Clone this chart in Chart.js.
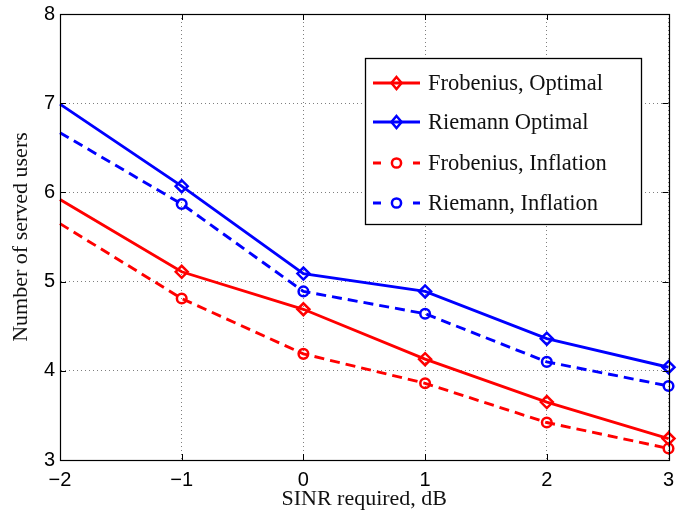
<!DOCTYPE html>
<html>
<head>
<meta charset="utf-8">
<script src="https://cdn.jsdelivr.net/npm/chart.js@4.4.1/dist/chart.umd.min.js"></script>
<style>
  html, body { margin: 0; padding: 0; background: #fff; }
  #wrap { width: 677px; height: 518px; position: relative; }
</style>
</head>
<body>
<div id="wrap"><canvas id="c" width="677" height="518"></canvas></div>
<script>
// ---- data ----
const sinrValues = [-2, -1, 0, 1, 2, 3];
const xTickLabels = ['\u22122', '\u22121', '0', '1', '2', '3'];
const yTickLabels = ['3', '4', '5', '6', '7', '8'];
const seriesNames = ['Frobenius, Optimal', 'Riemann Optimal', 'Frobenius, Inflation', 'Riemann, Inflation'];
const frobeniusOptimal  = [5.92, 5.11, 4.69, 4.13, 3.65, 3.24];
const riemannOptimal    = [6.99, 6.07, 5.09, 4.89, 4.36, 4.04];
const frobeniusInflation = [5.65, 4.81, 4.19, 3.86, 3.42, 3.13];
const riemannInflation  = [6.67, 5.87, 4.89, 4.64, 4.10, 3.83];
const xLabel = 'SINR required, dB';
const yLabel = 'Number of served users';

const RED = '#ff0000', BLUE = '#0000ff';
const DASH = [10, 6];
const serif = '"Liberation Serif", "Times New Roman", serif';
const sans = '"Liberation Sans", Arial, Helvetica, sans-serif';

function pts(vals) { return sinrValues.map((x, i) => ({ x: x, y: vals[i] })); }
function mk(label, vals, color, dashed, style) {
  return {
    label: label,
    data: pts(vals),
    borderColor: color,
    backgroundColor: 'rgba(0,0,0,0)',
    borderWidth: 2.9,
    borderDash: dashed ? DASH : [],
    pointStyle: style,
    pointRadius: ctx => (ctx.dataIndex === 0 ? 0 : (style === 'circle' ? 4.8 : 6)),
    pointBorderWidth: 2.5,
    pointBorderColor: color,
    pointBackgroundColor: 'rgba(0,0,0,0)',
    tension: 0,
    clip: false
  };
}

const datasets = [
  mk(seriesNames[0], frobeniusOptimal, RED, false, 'rectRot'),
  mk(seriesNames[1], riemannOptimal, BLUE, false, 'rectRot'),
  mk(seriesNames[2], frobeniusInflation, RED, true, 'circle'),
  mk(seriesNames[3], riemannInflation, BLUE, true, 'circle')
];

// box, inward ticks and legend
const framePlugin = {
  id: 'frame',
  afterDatasetsDraw(chart) {
    const ctx = chart.ctx, a = chart.chartArea;
    const xs = chart.scales.x, ys = chart.scales.y;
    ctx.save();
    ctx.strokeStyle = '#000';
    ctx.lineWidth = 1.2;
    ctx.setLineDash([]);
    ctx.strokeRect(Math.round(a.left) + 0.5, Math.round(a.top) + 0.5,
                   Math.round(a.right - a.left), Math.round(a.bottom - a.top));
    const tl = 6;
    ctx.lineWidth = 1;
    ctx.beginPath();
    sinrValues.forEach(v => {
      const px = Math.round(xs.getPixelForValue(v)) + 0.5;
      ctx.moveTo(px, a.bottom); ctx.lineTo(px, a.bottom - tl);
      ctx.moveTo(px, a.top); ctx.lineTo(px, a.top + tl);
    });
    yTickLabels.forEach(t => {
      const py = Math.round(ys.getPixelForValue(Number(t))) + 0.5;
      ctx.moveTo(a.left, py); ctx.lineTo(a.left + tl, py);
      ctx.moveTo(a.right, py); ctx.lineTo(a.right - tl, py);
    });
    ctx.stroke();

    // legend
    const bx = 365.5, by = 58.5, bw = 276, bh = 166;
    ctx.fillStyle = '#fff';
    ctx.fillRect(bx, by, bw, bh);
    ctx.strokeStyle = '#000';
    ctx.lineWidth = 1.3;
    ctx.strokeRect(bx, by, bw, bh);
    const rows = [83, 122, 163, 203];
    chart.data.datasets.forEach((ds, i) => {
      const y = rows[i];
      const x0 = 373, x1 = 420, xm = 396.5;
      ctx.strokeStyle = ds.borderColor;
      ctx.lineWidth = ds.borderWidth;
      ctx.setLineDash([]);
      ctx.beginPath();
      if (ds.borderDash.length) {
        ctx.moveTo(x0, y); ctx.lineTo(x0 + 8, y);
        ctx.moveTo(x1 - 7, y); ctx.lineTo(x1, y);
      } else {
        ctx.moveTo(x0, y); ctx.lineTo(x1, y);
      }
      ctx.stroke();
      ctx.lineWidth = 2.5;
      ctx.beginPath();
      if (ds.pointStyle === 'circle') {
        ctx.arc(xm, y, 4.6, 0, Math.PI * 2);
      } else {
        const r = 6;
        ctx.moveTo(xm, y - r); ctx.lineTo(xm + r * 0.85, y); ctx.lineTo(xm, y + r); ctx.lineTo(xm - r * 0.85, y); ctx.closePath();
      }
      ctx.stroke();
      ctx.fillStyle = '#111';
      ctx.font = '22.5px ' + serif;
      ctx.textBaseline = 'middle';
      ctx.textAlign = 'left';
      ctx.fillText(ds.label, 428, y + 1);
    });
    ctx.restore();
  }
};

new Chart(document.getElementById('c'), {
  type: 'line',
  data: { datasets: datasets },
  plugins: [framePlugin],
  options: {
    responsive: false,
    animation: false,
    devicePixelRatio: 1,
    layout: { padding: { top: 14, right: 6, left: 0, bottom: 0 } },
    plugins: { legend: { display: false }, tooltip: { enabled: false } },
    scales: {
      x: {
        type: 'linear',
        min: -2, max: 3,
        afterFit: s => { s.height = 58; s.paddingLeft = 0; s.paddingRight = 0; },
        afterBuildTicks: s => { s.ticks = sinrValues.map(v => ({ value: v })); },
        ticks: {
          padding: 8,
          color: '#000',
          font: { family: sans, size: 20 },
          maxRotation: 0,
          autoSkip: false,
          callback: (v) => xTickLabels[sinrValues.indexOf(v)]
        },
        grid: { color: 'rgba(0,0,0,0.5)', lineWidth: 1, drawTicks: false },
        border: { display: true, color: '#000', width: 1, dash: [1, 3] },
        title: {
          display: true, text: xLabel, color: '#111',
          font: { family: serif, size: 22 },
          padding: { top: 0, bottom: 6 }
        }
      },
      y: {
        type: 'linear',
        min: 3, max: 8,
        afterFit: s => { s.width = 60; s.paddingTop = 0; s.paddingBottom = 0; },
        afterBuildTicks: s => { s.ticks = yTickLabels.map(t => ({ value: Number(t) })); },
        ticks: {
          padding: 5,
          color: '#000',
          font: { family: sans, size: 20 },
          callback: (v) => yTickLabels[yTickLabels.indexOf(String(v))]
        },
        grid: { color: 'rgba(0,0,0,0.5)', lineWidth: 1, drawTicks: false },
        border: { display: true, color: '#000', width: 1, dash: [1, 3] },
        title: {
          display: true, text: yLabel, color: '#111',
          font: { family: serif, size: 22 },
          padding: { top: 8, bottom: 0 }
        }
      }
    }
  }
});
</script>
</body>
</html>
